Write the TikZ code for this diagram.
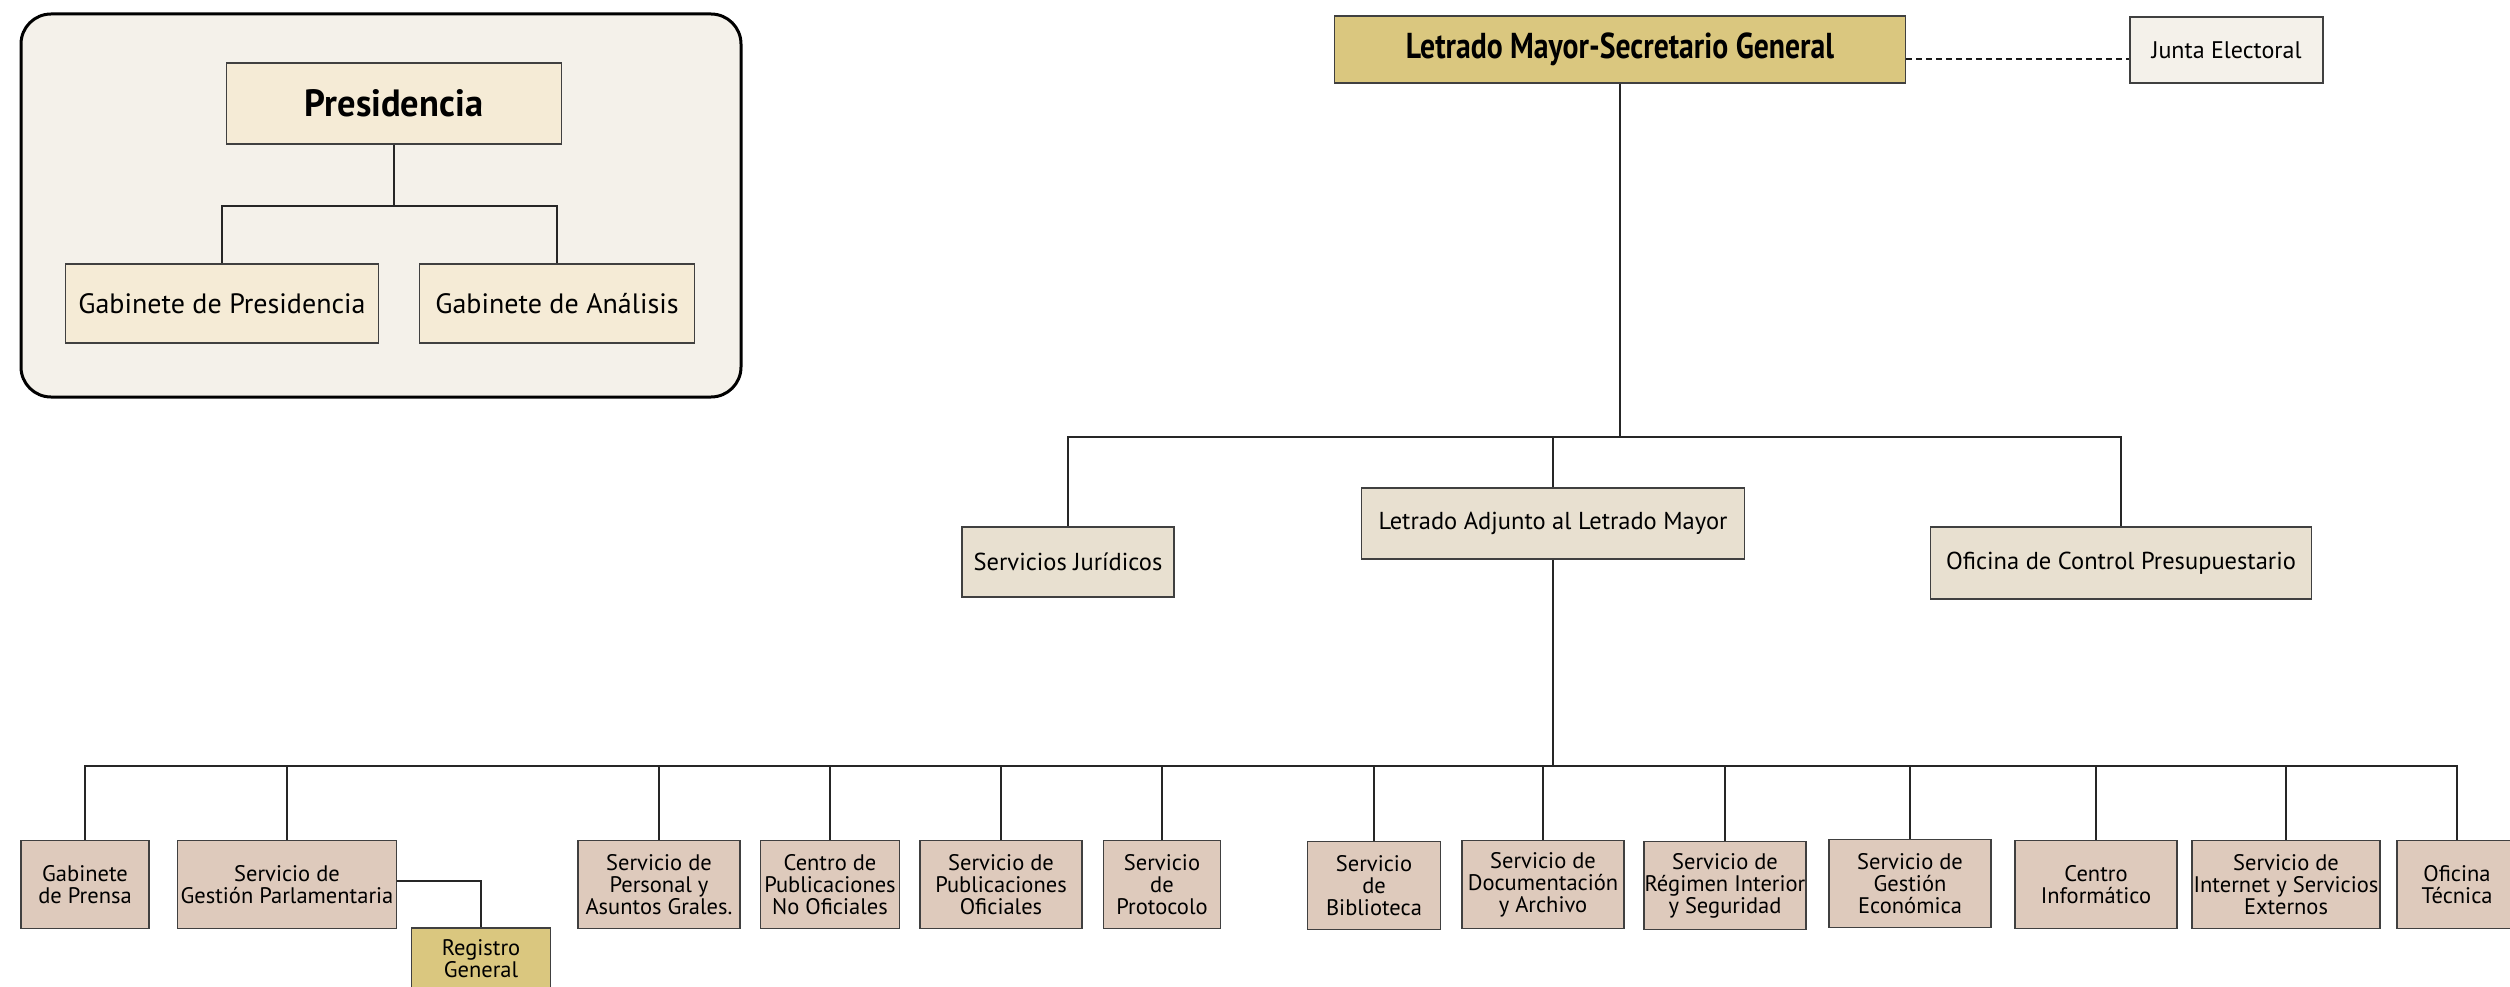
\documentclass[tikz,border=0pt]{standalone}
\usepackage{fontspec}
\setmainfont{PT Sans}
\usepackage{graphicx}
\definecolor{panelfill}{HTML}{F4F1EA}
\definecolor{presfill}{HTML}{F5EBD6}
\definecolor{goldfill}{HTML}{DAC77F}
\definecolor{juntafill}{HTML}{F4F1EA}
\definecolor{midfill}{HTML}{E8E0D0}
\definecolor{botfill}{HTML}{DECABC}
\begin{document}
\begin{tikzpicture}[x=1pt,y=-1pt,
  box/.style={draw=black!75, line width=1.5pt, inner sep=0pt, align=center, text=black},
  presbox/.style={box, fill=presfill, minimum height=79pt, font=\fontsize{28}{30}\selectfont},
  midbox/.style={box, fill=midfill, font=\fontsize{24.5}{26}\selectfont},
  botbox/.style={box, fill=botfill, minimum height=88pt, font=\fontsize{22.5}{22}\selectfont},
  conn/.style={draw=black!85, line width=1.6pt}]
\useasboundingbox (0,0) rectangle (2510,987);
% Presidencia panel
\node[draw=black, line width=3pt, fill=panelfill, rounded corners=30pt,
      minimum width=720pt, minimum height=383pt, inner sep=0pt] (panel) at (381,205.5) {};
\node[presbox, minimum width=335pt, minimum height=81pt] (pres) at (394,103.5)
  {\scalebox{0.96}[1]{\fontsize{38}{38}\selectfont\bfseries Presidencia}};
\node[presbox, minimum width=313pt] (gpres) at (222,303.5) {Gabinete de Presidencia};
\node[presbox, minimum width=275pt] (ganal) at (557,303.5) {Gabinete de Análisis};
\draw[conn] (pres.south) -- ++(0,61) coordinate (b0) -| (gpres.north);
\draw[conn] (b0) -| (ganal.north);
% top
\node[box, fill=goldfill, minimum width=571pt, minimum height=67pt] (lmsg) at (1620,49.5)
  {\scalebox{0.825}[1]{\fontsize{36}{36}\selectfont\bfseries Letrado Mayor-Secretario General}};
\node[box, fill=juntafill, minimum width=193pt, minimum height=66pt,
      font=\fontsize{24}{26}\selectfont] (junta) at (2226.5,50) {Junta Electoral};
\draw[draw=black!90, line width=2pt, dash pattern=on 6pt off 4pt]
  ([yshift=-10pt]lmsg.east) -- ([yshift=-10pt]lmsg.east -| junta.west);
% middle
\coordinate (bus1) at (1620,437);
\node[midbox, minimum width=212pt, minimum height=70pt] (sj) at (1068,562) {Servicios Jurídicos};
\node[midbox, minimum width=383pt, minimum height=71pt] (la) at (1553,523.5) {Letrado Adjunto al Letrado Mayor};
\node[midbox, minimum width=381pt, minimum height=72pt] (ocp) at (2121,563) {Oficina de Control Presupuestario};
\draw[conn] (lmsg.south) -- (bus1);
\draw[conn] (bus1) -| (sj.north);
\draw[conn] (bus1) -| (la.north);
\draw[conn] (bus1) -| (ocp.north);
% bottom
\coordinate (bus2) at (1553,766);
\node[botbox, minimum width=128pt] (gprensa) at (85,884.5) {Gabinete\\de Prensa};
\node[botbox, minimum width=219pt] (sgp) at (287,884.5) {Servicio de\\Gestión Parlamentaria};
\node[botbox, minimum width=162pt] (spers) at (659,884.5) {Servicio de\\Personal y\\Asuntos Grales.};
\node[botbox, minimum width=139pt] (cpno) at (830,884.5) {Centro de\\Publicaciones\\No Oficiales};
\node[botbox, minimum width=162pt] (spo) at (1001,884.5) {Servicio de\\Publicaciones\\Oficiales};
\node[botbox, minimum width=117pt] (prot) at (1162,884.5) {Servicio\\de\\Protocolo};
\node[botbox, minimum width=133pt] (bib) at (1374,885.5) {Servicio\\de\\Biblioteca};
\node[botbox, minimum width=162pt] (doc) at (1543,884.5) {Servicio de\\Documentación\\y Archivo};
\node[botbox, minimum width=162pt] (ri) at (1725,885.5) {Servicio de\\Régimen Interior\\y Seguridad};
\node[botbox, minimum width=162pt] (ge) at (1910,883.5) {Servicio de\\Gestión\\Económica};
\node[botbox, minimum width=162pt] (ci) at (2096,884.5) {Centro\\Informático};
\node[botbox, minimum width=188pt] (inet) at (2286,884.5) {Servicio de\\Internet y Servicios\\Externos};
\node[botbox, minimum width=120pt] (ot) at (2457,884.5) {Oficina\\Técnica};
\node[botbox, fill=goldfill, minimum width=139pt, minimum height=62pt] (reg) at (481,959) {Registro\\General};
\draw[conn] (la.south) -- (bus2);
\foreach \n in {gprensa,sgp,spers,cpno,spo,prot,bib,doc,ri,ge,ci,inet,ot}
  \draw[conn] (bus2) -| (\n.north);
\draw[conn] ([yshift=3.5pt]sgp.east) -| (reg.north);
\end{tikzpicture}
\end{document}
